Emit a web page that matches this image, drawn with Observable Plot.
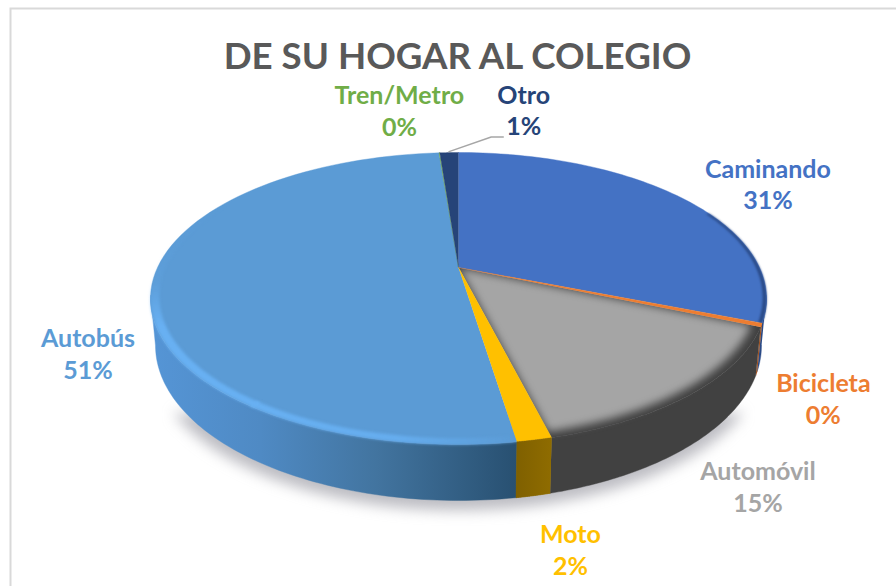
<!DOCTYPE html>
<html>
<head>
<meta charset="utf-8">
<script src="https://cdn.jsdelivr.net/npm/d3@7"></script>
<script src="https://cdn.jsdelivr.net/npm/@observablehq/plot@0.6"></script>
<style>html,body{margin:0;padding:0;background:#fff}svg{display:block}</style>
</head>
<body>
<div id="chart"></div>
<script>
const titleText = "DE SU HOGAR AL COLEGIO";
const categories = ["Caminando", "Bicicleta", "Automóvil", "Moto", "Autobús", "Tren/Metro", "Otro"];
const shares = [31, 0.4, 14.65, 1.5, 51.2, 0.05, 1.2];
const colors = ["#4472c4", "#ed7d31", "#a5a5a5", "#ffc000", "#5b9bd5", "#70ad47", "#264478"];
const sideFills = ["#2a4a86", "#a0521f", "#414141", "url(#sideMoto)", "url(#sideBus)", "#4a7530", "#18305a"];
const labelDx = [87, 62, 66, 36, -64, -40, 74.5];
const labelDy = [-14, 73, 92, 109, 69, -43, -43];

// 3D view of the unit disc, in pie units (the x and y scales turn them into pixels)
const K = 0.2123, PX_X = 301, PX_Y = 139.4, CX = 458, CY = 267;
const W = 896, H = 586;
const project = (t, r = 1) => {
  const u = r * Math.sin(t), v = -r * Math.cos(t), w = 1 - K * v;
  return {x: u / w, y: v / w};
};
const BOTTOM_X = 303 / PX_X, BOTTOM_CY = 78 / PX_Y, BOTTOM_RY = 155 / PX_Y;
const projectBase = (t) => {
  const x = project(t).x * 0.984;
  const q = Math.max(0, 1 - (x / BOTTOM_X) ** 2);
  return {x, y: BOTTOM_CY + BOTTOM_RY * Math.sqrt(q)};
};
const angles = (a, b, n = 80) => d3.range(n + 1).map((i) => a + (b - a) * i / n);
const deg = (d) => d * Math.PI / 180;

const total = d3.sum(shares);
const cums = d3.cumsum(shares);
const slices = categories.map((name, i) => ({
  name,
  i,
  a0: (i ? cums[i - 1] : 0) / total * 2 * Math.PI,
  a1: cums[i] / total * 2 * Math.PI,
  pct: Math.round(shares[i] / total * 100)
}));

const wedge = (s, r = 1) => [{x: 0, y: 0}, ...angles(s.a0, s.a1).map((t) => project(t, r))];
const SIDE_A = deg(101), SIDE_B = deg(259);
const side = (s) => {
  const a = Math.max(s.a0, SIDE_A), b = Math.min(s.a1, SIDE_B);
  if (a >= b) return [];
  const ts = angles(a, b);
  return [...ts.map((t) => project(t)), ...ts.slice().reverse().map(projectBase)];
};
const rimBand = (a, b, inner) => {
  const ts = angles(a, b, 120);
  return [...ts.map((t) => project(t)), ...ts.slice().reverse().map((t) => project(t, inner))];
};
const poly = (pts, fill, extra = {}) => Plot.line(pts, {x: "x", y: "y", fill, stroke: fill, strokeWidth: 0.4, curve: "linear", ...extra});
const soft = (blur) => ({imageFilter: `blur(${blur}px)`, strokeOpacity: 0});

const cam = slices[0], bici = slices[1], car = slices[2], moto = slices[3], bus = slices[4], tren = slices[5], otro = slices[6];
const baseOutline = angles(deg(80), deg(280), 160).map(projectBase);

const defs = () => {
  const el = document.createElementNS("http://www.w3.org/2000/svg", "defs");
  el.innerHTML = `
    <linearGradient id="sideBus" x1="0" x2="1" y1="0" y2="0">
      <stop offset="0" stop-color="#5595d6"/><stop offset="0.3" stop-color="#4f8ac4"/>
      <stop offset="0.62" stop-color="#42749f"/><stop offset="1" stop-color="#285071"/>
    </linearGradient>
    <linearGradient id="sideMoto" x1="0" x2="1" y1="0" y2="0">
      <stop offset="0" stop-color="#7f6000"/><stop offset="1" stop-color="#8f6c00"/>
    </linearGradient>
    <linearGradient id="rimBusFront" x1="0" x2="1" y1="0" y2="0">
      <stop offset="0" stop-color="#68b0f2"/><stop offset="0.55" stop-color="#66adee"/>
      <stop offset="1" stop-color="#5b9bd5"/>
    </linearGradient>
    <linearGradient id="rimBusBack" x1="0" x2="0" y1="0" y2="1">
      <stop offset="0" stop-color="#68b0f2" stop-opacity="0"/><stop offset="0.38" stop-color="#68b0f2" stop-opacity="0.15"/>
      <stop offset="0.6" stop-color="#68b0f2" stop-opacity="1"/><stop offset="1" stop-color="#68b0f2"/>
    </linearGradient>`;
  return el;
};

const labelMarks = slices.map((s, i) => {
  const mid = project((s.a0 + s.a1) / 2);
  return Plot.text([{...mid, label: `${s.name}\n${s.pct}%`}], {
    x: "x", y: "y", text: "label", fill: colors[i],
    dx: labelDx[i], dy: labelDy[i],
    fontFamily: "Lato", fontWeight: 700, fontSize: 25, lineHeight: 1.26, textAnchor: "middle"
  });
});

const otroTop = project((otro.a0 + otro.a1) / 2, 1.01);
const leader = [otroTop, {x: otroTop.x + 0.14, y: otroTop.y - 0.105}, {x: otroTop.x + 0.18, y: otroTop.y - 0.105}];

const chart = Plot.plot({
  width: W, height: H,
  margin: 0,
  style: {background: "#fff", overflow: "visible"},
  x: {domain: [-CX / PX_X, (W - CX) / PX_X], range: [0, W], axis: null},
  y: {domain: [-CY / PX_Y, (H - CY) / PX_Y], range: [0, H], axis: null},
  marks: [
    defs,
    Plot.frame({stroke: "#d9d9d9", strokeWidth: 2, insetLeft: 10, insetTop: 8, insetRight: -4, insetBottom: -4}),
    // soft shadow below the disc
    poly(baseOutline.map((p) => ({x: p.x * 1.012, y: p.y + 0.07})), "#8f8f99", {...soft(7), fillOpacity: 0.6}),
    ...slices.map((s, i) => poly(side(s), sideFills[i])),
    // automóvil fades into its dark side along the near edge
    poly(wedge(car), "#414141"),
    poly(wedge(car, 0.972), colors[2], soft(4)),
    // remaining faces drawn over the blur
    poly(wedge(cam), colors[0]),
    poly(rimBand(deg(65), cam.a1, 0.988), "#2a4a86", soft(1)),
    poly(wedge(bus), colors[4]),
    poly(rimBand(bus.a0, deg(215), 0.972), "url(#rimBusFront)", soft(1.5)),
    poly(rimBand(deg(214), deg(300), 0.972), "url(#rimBusBack)", soft(1.5)),
    poly(wedge(tren), colors[5]),
    poly(wedge(otro), colors[6]),
    poly(wedge(bici), colors[1]),
    poly(wedge(moto), colors[3]),
    poly(side(moto), sideFills[3]),
    Plot.line(leader, {x: "x", y: "y", stroke: "#a6a6a6", strokeWidth: 1.5, curve: "linear"}),
    Plot.text([titleText], {frameAnchor: "top", dx: 9, dy: 42, fontFamily: "Lato", fontWeight: 700, fontSize: 36.7, fill: "#595959", lineAnchor: "top"}),
    ...labelMarks
  ]
});
document.getElementById("chart").append(chart);
</script>
</body>
</html>
